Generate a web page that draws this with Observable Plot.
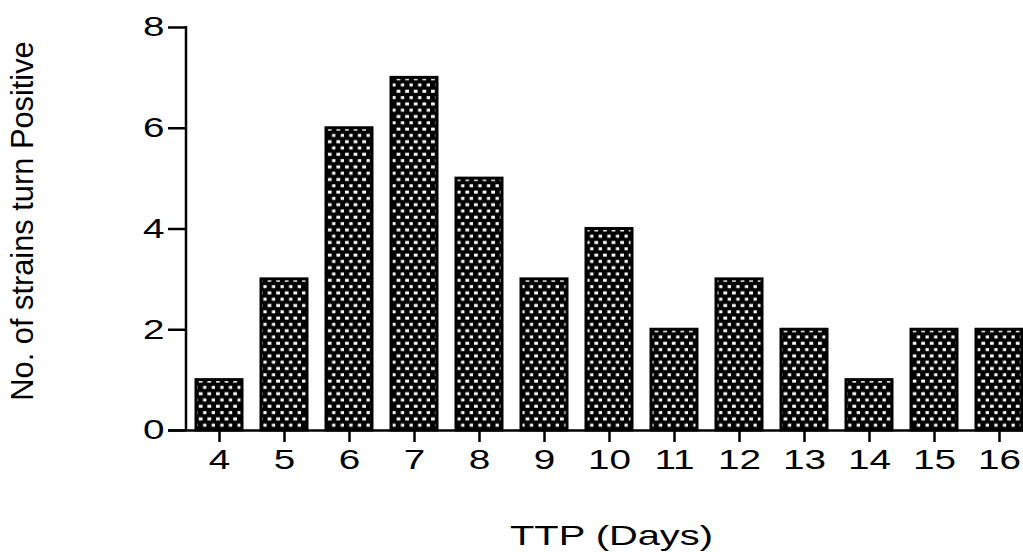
<!DOCTYPE html>
<html>
<head>
<meta charset="utf-8">
<script src="https://cdn.jsdelivr.net/npm/d3@7"></script>
<script src="https://cdn.jsdelivr.net/npm/@observablehq/plot@0.6"></script>
<style>
  html, body { margin: 0; padding: 0; background: white; overflow: hidden; }
  svg { display: block; }
</style>
</head>
<body>
<script>
const days = ["4","5","6","7","8","9","10","11","12","13","14","15","16"];
const counts = [1, 3, 6, 7, 5, 3, 4, 2, 3, 2, 1, 2, 2];
const yTicks = [0, 2, 4, 6, 8];
const xTitle = "TTP (Days)";
const yTitle = "No. of strains turn Positive";

const data = days.map((d, i) => ({day: d, count: counts[i]}));

const defs = () => {
  const g = d3.create("svg:defs");
  const p = g.append("pattern")
    .attr("id", "dots").attr("patternUnits", "userSpaceOnUse")
    .attr("width", 8.6).attr("height", 12.6);
  p.append("rect").attr("width", 8.6).attr("height", 12.6).attr("fill", "black");
  p.append("rect").attr("x", 1).attr("y", 1.6).attr("width", 3.8).attr("height", 3).attr("fill", "white");
  p.append("rect").attr("x", 5.3).attr("y", 7.9).attr("width", 3.8).attr("height", 3).attr("fill", "white");
  return g.node();
};

// vertical y-axis line along the left edge of the frame
const yAxisLine = (index, scales, values, dimensions) => {
  const {marginLeft, marginTop, marginBottom, height} = dimensions;
  const g = d3.create("svg:g");
  g.append("line")
    .attr("x1", marginLeft).attr("x2", marginLeft)
    .attr("y1", marginTop - 1).attr("y2", height - marginBottom + 1)
    .attr("stroke", "black").attr("stroke-width", 2.5);
  return g.node();
};

const chart = Plot.plot({
  width: 1023,
  height: 552,
  marginLeft: 186,
  marginRight: 0,
  marginTop: 27,
  marginBottom: 122,
  style: {fontFamily: "'Liberation Sans', Arial, sans-serif", fontSize: "28px", color: "black", background: "white"},
  x: {domain: days, range: [186, 1031], paddingInner: 0.293, paddingOuter: 0.138},
  y: {domain: [0, 8]},
  marks: [
    defs,
    Plot.barY(data, {x: "day", y: "count", fill: "url(#dots)", stroke: "black", strokeWidth: 3}),
    Plot.ruleY([0], {stroke: "black", strokeWidth: 2.5, insetLeft: -18}),
    yAxisLine,
    Plot.axisY({ticks: yTicks, tickSize: 18, tickPadding: 4, strokeWidth: 2.5, label: null, fontSize: 28}),
    Plot.axisX({tickSize: 12, tickPadding: 7, strokeWidth: 2.5, label: null, fontSize: 28}),
    Plot.text([yTitle], {frameAnchor: "left", textAnchor: "middle", rotate: -90, dx: -163, dy: -8, fontSize: 30.8}),
    Plot.text([xTitle], {frameAnchor: "bottom", textAnchor: "middle", lineAnchor: "top", dx: 6.5, dy: 95, fontSize: 28})
  ]
});

document.body.append(chart);

const svg = d3.select(chart);
svg.selectAll('[aria-label="x-axis tick label"] text, [aria-label="y-axis tick label"] text').each(function() {
  const len = this.getComputedTextLength();
  this.setAttribute("textLength", len * 1.38);
  this.setAttribute("lengthAdjust", "spacingAndGlyphs");
});
svg.selectAll("text").filter(function() { return this.textContent === xTitle; })
  .attr("textLength", 203).attr("lengthAdjust", "spacingAndGlyphs");
</script>
</body>
</html>
